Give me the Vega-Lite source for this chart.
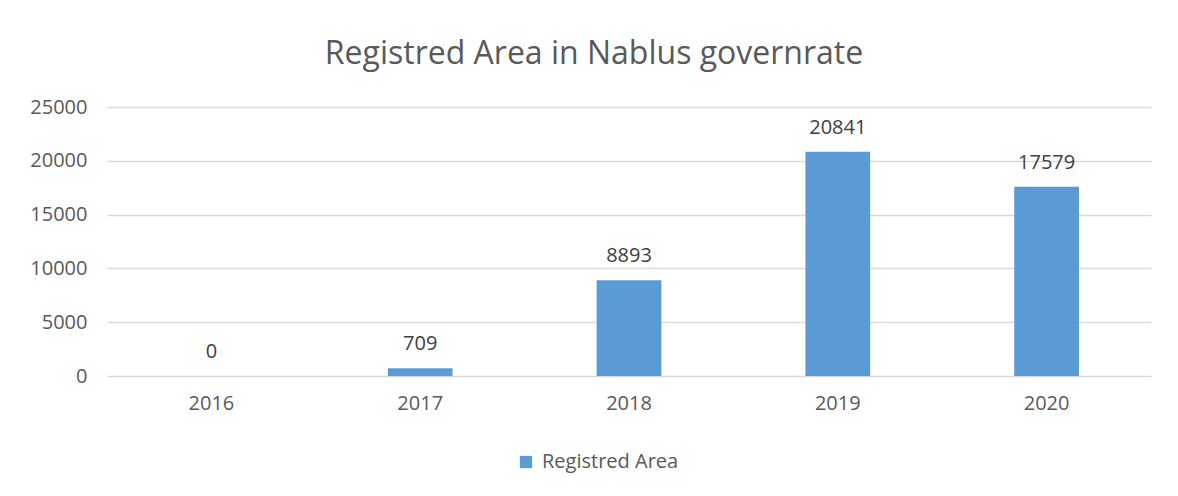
{
  "$schema": "https://vega.github.io/schema/vega-lite/v6.json",
  "width": 1044,
  "height": 269,
  "autosize": {"type": "none"},
  "padding": {"left": 107, "top": 107, "right": 27, "bottom": 120},
  "background": "white",
  "title": {
    "text": "Registred Area in Nablus governrate",
    "font": "Open Sans",
    "fontSize": 32,
    "fontWeight": "normal",
    "color": "#595959",
    "anchor": "middle",
    "dx": -35,
    "offset": 26
  },
  "data": {
    "values": [
      {"year": "2016", "area": 0, "series": "Registred Area"},
      {"year": "2017", "area": 709, "series": "Registred Area"},
      {"year": "2018", "area": 8893, "series": "Registred Area"},
      {"year": "2019", "area": 20841, "series": "Registred Area"},
      {"year": "2020", "area": 17579, "series": "Registred Area"}
    ]
  },
  "encoding": {
    "x": {
      "field": "year",
      "type": "nominal",
      "sort": null,
      "title": null,
      "scale": {"paddingInner": 0.69, "paddingOuter": 0.345},
      "axis": {
        "labelAngle": 0,
        "labelFont": "Open Sans",
        "labelFontSize": 20,
        "labelColor": "#595959",
        "labelPadding": 17,
        "ticks": false,
        "domain": false,
        "grid": false
      }
    },
    "y": {
      "field": "area",
      "type": "quantitative",
      "title": null,
      "scale": {"domain": [0, 25000], "nice": false},
      "axis": {
        "values": [0, 5000, 10000, 15000, 20000, 25000],
        "format": "d",
        "labelFont": "Open Sans",
        "labelFontSize": 20,
        "labelColor": "#595959",
        "labelPadding": 20,
        "ticks": false,
        "domain": false,
        "grid": true,
        "gridColor": "#D9D9D9",
        "gridWidth": 1.5
      }
    }
  },
  "layer": [
    {
      "mark": {"type": "bar"},
      "encoding": {
        "color": {
          "field": "series",
          "type": "nominal",
          "scale": {"range": ["#5B9BD5"]},
          "legend": {
            "title": null,
            "orient": "none",
            "legendX": 409,
            "legendY": 345,
            "symbolType": "square",
            "symbolSize": 150,
            "symbolStrokeWidth": 0,
            "labelFont": "Open Sans",
            "labelFontSize": 20,
            "labelColor": "#595959",
            "labelOffset": 6
          }
        }
      }
    },
    {
      "mark": {
        "type": "text",
        "baseline": "bottom",
        "dy": -14,
        "font": "Open Sans",
        "fontSize": 20,
        "color": "#404040"
      },
      "encoding": {
        "text": {"field": "area", "type": "quantitative", "format": "d"}
      }
    }
  ],
  "config": {
    "view": {"stroke": null}
  }
}
